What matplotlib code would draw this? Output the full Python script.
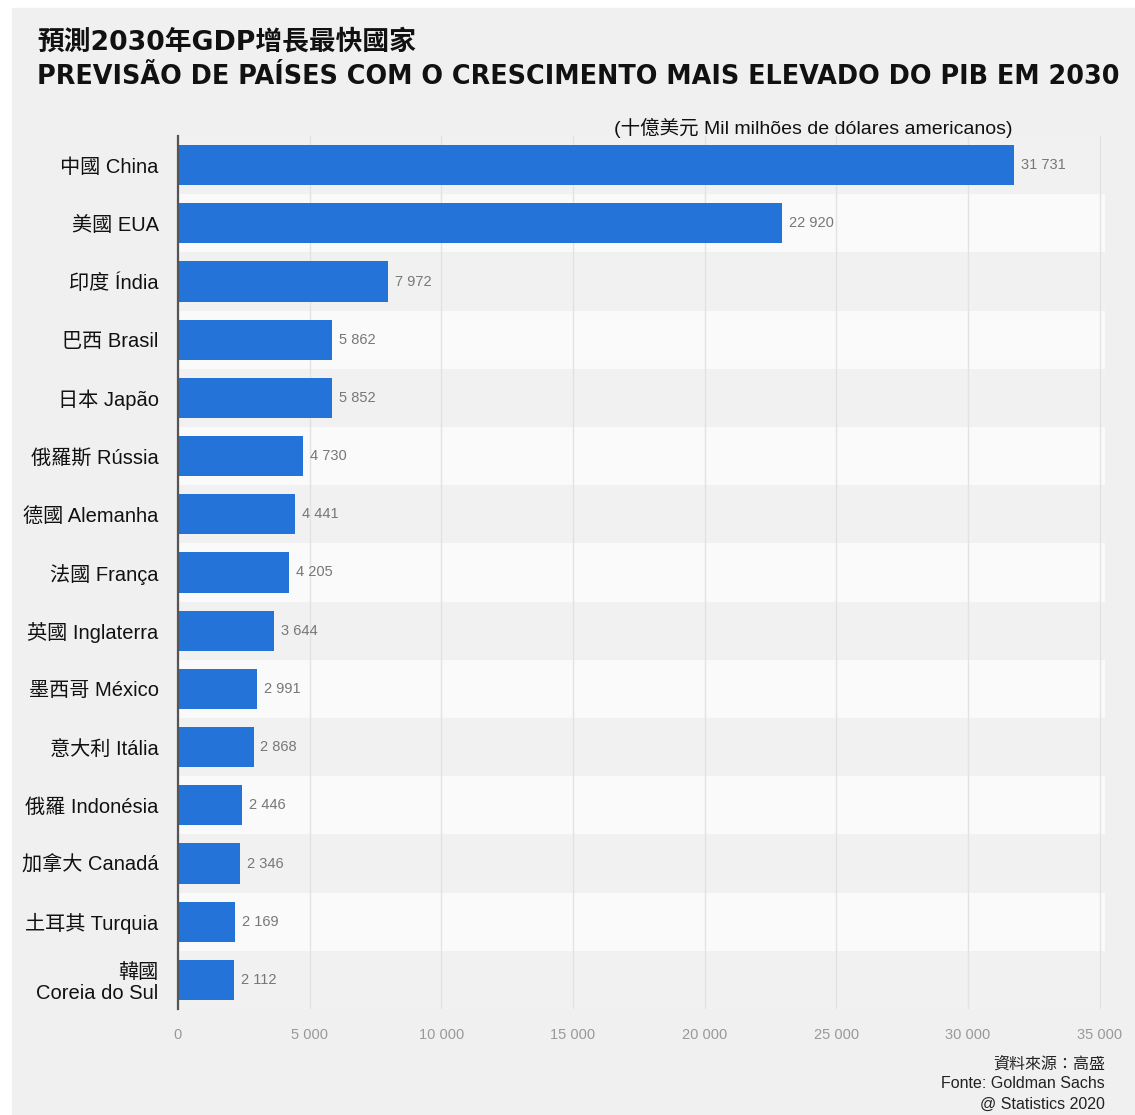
import matplotlib.pyplot as plt
from matplotlib.patches import Rectangle

# data
countries = ['中國 China', '美國 EUA', '印度 Índia', '巴西 Brasil', '日本 Japão',
             '俄羅斯 Rússia', '德國 Alemanha', '法國 França', '英國 Inglaterra',
             '墨西哥 México', '意大利 Itália', '俄羅 Indonésia', '加拿大 Canadá',
             '土耳其 Turquia', '韓國\nCoreia do Sul']
gdp = [31731, 22920, 7972, 5862, 5852, 4730, 4441, 4205, 3644,
       2991, 2868, 2446, 2346, 2169, 2112]
xticks = [0, 5000, 10000, 15000, 20000, 25000, 30000, 35000]

fonts = ['Liberation Sans', 'Noto Sans CJK TC', 'DejaVu Sans']
plt.rcParams['font.family'] = fonts

W, H = 1135, 1115
fig = plt.figure(figsize=(W / 100, H / 100), dpi=100)
fig.patch.set_facecolor('white')
fig.patches.append(Rectangle((12 / W, 0), 1 - 12 / W, 1 - 8 / H,
                             transform=fig.transFigure, color='#f0f0f0', zorder=-10))

ax = fig.add_axes([178 / W, 1 - 1009 / H, (1105 - 178) / W, (1009 - 136) / H])
ax.set_facecolor('#fafafa')
ypos = list(range(len(countries)))
for i in ypos:
    if i % 2 == 0:
        ax.axhspan(i - 0.5, i + 0.5, color='#f1f1f1', zorder=0, lw=0)

ax.bar_label(ax.barh(ypos, gdp, height=0.69, color='#2473d9', zorder=3),
             labels=[f'{v:,}'.replace(',', ' ') for v in gdp],
             padding=5, fontsize=10.5, color='#777777')

ax.set_xlim(0, 35200)
ax.set_ylim(len(countries) - 0.5, -0.5)
ax.set_xticks(xticks)
ax.set_xticklabels([f'{v:,}'.replace(',', ' ') for v in xticks], fontsize=10.5, color='#999999')
ax.set_yticks(ypos)
ax.set_yticklabels(countries, fontsize=14.5, color='#111111', linespacing=1.15)
ax.tick_params(axis='both', length=0)
ax.tick_params(axis='y', pad=14)
ax.tick_params(axis='x', pad=14)
ax.grid(axis='x', color='#e2e2e2', lw=1, zorder=1)
ax.set_axisbelow(True)
for s in ['top', 'right', 'bottom']:
    ax.spines[s].set_visible(False)
ax.spines['left'].set_color('#555555')
ax.spines['left'].set_linewidth(1.6)
ax.spines['left'].set_zorder(4)

title_fonts = ['DejaVu Sans', 'Noto Sans CJK TC']
fig.text(37 / W, 1 - 43 / H, '預測2030年GDP增長最快國家', fontsize=19.3,
         fontweight='bold', va='center', ha='left', color='#111111', family=title_fonts)
fig.text(37 / W, 1 - 77 / H,
         'PREVISÃO DE PAÍSES COM O CRESCIMENTO MAIS ELEVADO DO PIB EM 2030',
         fontsize=18.4, fontweight='bold', va='center', ha='left', color='#111111',
         family=title_fonts)
fig.text(1012 / W, 1 - 128 / H, '(十億美元 Mil milhões de dólares americanos)',
         fontsize=14, va='center', ha='right', color='#111111')

foot = ['資料來源：高盛', 'Fonte: Goldman Sachs', '@ Statistics 2020']
for k, t in enumerate(foot):
    fig.text(1105 / W, 1 - (1064 + 20 * k) / H, t, fontsize=11.5,
             va='center', ha='right', color='#222222')

fig.savefig('out.png', dpi=100)
